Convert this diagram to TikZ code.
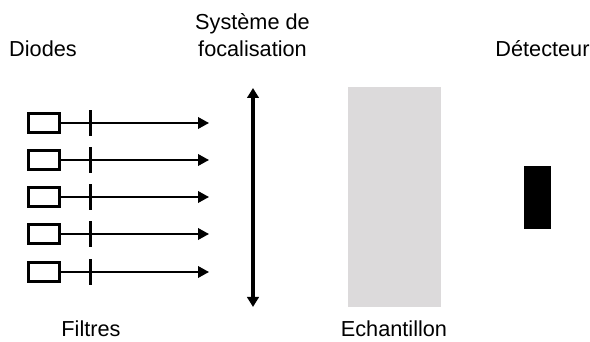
\documentclass[tikz,border=0pt]{standalone}
\usepackage{fontspec}
\setmainfont{Liberation Sans}
\usetikzlibrary{arrows.meta,positioning}
\definecolor{echgrey}{RGB}{220,218,219}
\tikzstyle{arrow} = [line width=2pt,-{Triangle[length=11pt,width=11.5pt]}]
\tikzstyle{lens} = [line width=3.6pt,{Triangle[length=10pt,width=11.5pt]}-{Triangle[length=10pt,width=11.5pt]}]
\tikzstyle{diode} = [rectangle, draw, line width=2.7pt, fill=white, minimum width=30.7pt, minimum height=19.3pt, inner sep=0pt]
\tikzstyle{filtre} = [rectangle, fill=black, minimum width=3pt, minimum height=26pt, inner sep=0pt]
\tikzstyle{legend} = [font=\fontsize{21.7}{27}\selectfont, inner sep=0pt, anchor=base]

\begin{document}
\begin{tikzpicture}[x=1pt, y=-1pt]
\useasboundingbox (0,0) rectangle (590,342);
% Diodes et filtres
\node (d1) [diode] at (44,123) {};
\node (d2) [diode] at (44,160) {};
\node (d3) [diode] at (44,197) {};
\node (d4) [diode] at (44,234) {};
\node (d5) [diode] at (44,272) {};

\coordinate (a1) at (209,123);
\coordinate (a2) at (209,160);
\coordinate (a3) at (209,197);
\coordinate (a4) at (209,234);
\coordinate (a5) at (209,272);

\draw[arrow] (d1) -- (a1);
\draw[arrow] (d2) -- (a2);
\draw[arrow] (d3) -- (a3);
\draw[arrow] (d4) -- (a4);
\draw[arrow] (d5) -- (a5);

\node (f1) [filtre] at (90.5,123) {};
\node (f2) [filtre] at (90.5,160) {};
\node (f3) [filtre] at (90.5,197) {};
\node (f4) [filtre] at (90.5,234) {};
\node (f5) [filtre] at (90.5,272) {};

% Lentille
\coordinate (l1) at (253,88);
\coordinate (l2) at (253,307);
\draw[lens] (l1) -- (l2);

% Echantillon et detecteur
\node (ech) [rectangle, fill=echgrey, minimum width=93pt, minimum height=220pt, inner sep=0pt] at (394.5,197) {};
\node (det) [rectangle, fill=black, minimum width=27pt, minimum height=63pt, inner sep=0pt] at (537.5,197.5) {};

% Legendes
\node (t1) [legend] at (43,57) {Diodes};
\node (t2) [legend] at (252.5,30) {Système de};
\node (t3) [legend] at (252.5,57) {focalisation};
\node (t4) [legend] at (542.5,57) {Détecteur};
\node (t5) [legend] at (91,337) {Filtres};
\node (t6) [legend] at (394,337) {Echantillon};
\end{tikzpicture}
\end{document}
